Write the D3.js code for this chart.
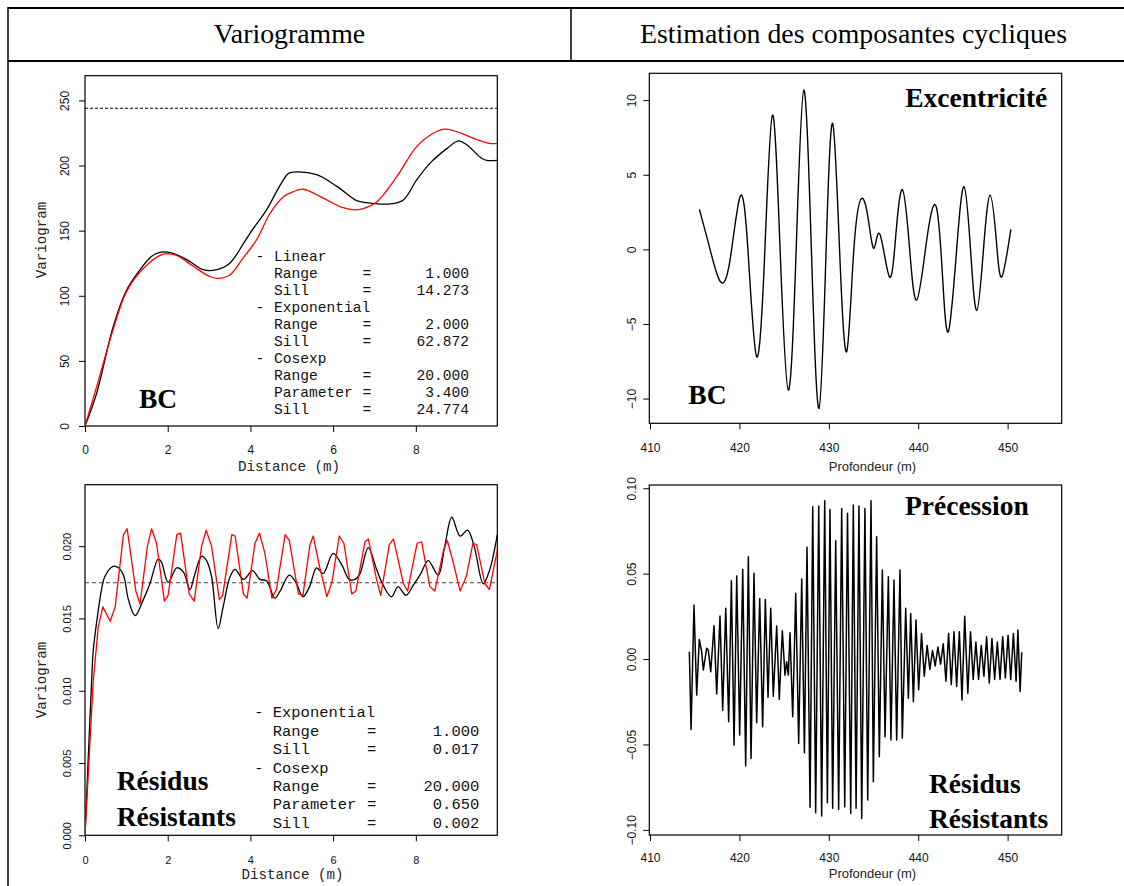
<!DOCTYPE html>
<html><head><meta charset="utf-8">
<script src="https://cdn.jsdelivr.net/npm/d3@7/dist/d3.min.js"></script>
<style>body{margin:0;background:#fff} svg{display:block}</style>
</head><body><svg id="c" width="1124" height="886"></svg>
<script>
// ---------------- DATA ----------------
const headerTitles = ["Variogramme", "Estimation des composantes cycliques"];

// Top-left: variogram BC (black = experimental, red = model)
const bcExpDist = [0,0.28,0.68,1.0,1.33,1.6,1.81,2.13,2.5,2.86,3.19,3.5,3.83,3.99,4.39,4.72,4.92,5.04,5.6,6.09,6.57,6.81,7.38,7.7,8.02,8.38,8.75,9.03,9.23,9.59,9.71,9.97];
const bcExpVal  = [0,25,76,104,120,130,133.4,132.6,127,120,120,125,140,148,166,185,194,195,193,184,173,171.5,170.5,173.6,189,203,213,219,216,205.6,204,204];
const bcModDist = [0,0.28,0.68,1.0,1.41,1.89,2.21,2.6,3.0,3.19,3.5,3.8,4.15,4.47,4.8,5.04,5.28,5.76,6.2,6.49,6.73,7.05,7.54,8.02,8.42,8.71,8.99,9.47,9.79,9.97];
const bcModVal  = [0,30,74,103,121,132,131,123,115,113.4,116,128,143,163,176,180,181.8,175,168,166,167,172,191.5,214.5,224.8,227.9,226,220,217,217];
const bcSill = 244;
const bcYTicks = [0,50,100,150,200,250];
const distTicks = [0,2,4,6,8];
const bcLegendNames  = ["Linear","Range","Sill","Exponential","Range","Sill","Cosexp","Range","Parameter","Sill"];
const bcLegendValues = [null,"1.000","14.273",null,"2.000","62.872",null,"20.000","3.400","24.774"];

// Bottom-left: variogram residus resistants
const rrExpDist = [0,0.16,0.2,0.28,0.4,0.48,0.68,0.81,0.93,1.05,1.21,1.41,1.57,1.77,1.85,2.01,2.22,2.38,2.54,2.64,2.82,2.94,3.06,3.22,3.34,3.51,3.63,3.83,4.05,4.23,4.39,4.59,4.72,4.94,5.1,5.27,5.43,5.6,5.76,6.0,6.21,6.39,6.53,6.65,6.85,7.05,7.21,7.41,7.57,7.76,7.94,8.12,8.3,8.54,8.7,8.87,9.07,9.25,9.41,9.63,9.79,9.97];
const rrExpVal  = [0,0.0107,0.0128,0.0147,0.017,0.0179,0.0186,0.0185,0.018,0.0163,0.0152,0.0163,0.0174,0.0191,0.0189,0.0175,0.0185,0.0182,0.017,0.0179,0.0193,0.019,0.0179,0.0143,0.0158,0.0179,0.0184,0.0177,0.0183,0.0177,0.0176,0.0164,0.0169,0.018,0.0175,0.0165,0.0172,0.0185,0.0181,0.0195,0.0187,0.0177,0.0177,0.0181,0.0199,0.0184,0.0173,0.0165,0.0172,0.0166,0.0173,0.0181,0.019,0.018,0.02,0.022,0.0207,0.0211,0.02,0.0174,0.0184,0.0208];
const rrModDist = [0,0.2,0.32,0.43,0.61,0.73,0.93,1.02,1.23,1.33,1.51,1.61,1.73,1.92,2.01,2.22,2.31,2.52,2.64,2.82,2.93,3.06,3.25,3.33,3.55,3.63,3.83,3.92,4.11,4.22,4.35,4.52,4.63,4.84,4.94,5.16,5.27,5.44,5.52,5.67,5.85,5.97,6.15,6.26,6.45,6.55,6.77,6.85,7.05,7.15,7.36,7.46,7.7,7.8,8.03,8.14,8.34,8.46,8.67,8.76,8.91,9.07,9.22,9.38,9.47,9.67,9.78,9.97];
const rrModVal  = [0,0.0107,0.0144,0.0158,0.0148,0.0158,0.0208,0.0212,0.0169,0.016,0.02,0.0212,0.0202,0.0162,0.0166,0.0208,0.0209,0.0167,0.0162,0.02,0.0211,0.02,0.0163,0.0166,0.0208,0.0207,0.0167,0.0164,0.0202,0.0209,0.0195,0.0164,0.017,0.0208,0.0204,0.0167,0.0166,0.0201,0.0207,0.0186,0.0165,0.0175,0.0207,0.0202,0.0167,0.0169,0.0203,0.0205,0.0177,0.0166,0.0201,0.0205,0.0174,0.0169,0.0202,0.0203,0.0172,0.0169,0.0197,0.0204,0.0188,0.0169,0.0179,0.0202,0.0201,0.0174,0.017,0.0197];
const rrSill = 0.01747;
const rrYTicks = [0,0.005,0.01,0.015,0.02];
const rrLegendNames  = ["Exponential","Range","Sill","Cosexp","Range","Parameter","Sill"];
const rrLegendValues = [null,"1.000","0.017",null,"20.000","0.650","0.002"];

// Top-right: excentricity component
const excDepth = [415.52,416.64,417.85,418.95,420.07,420.95,421.93,422.85,423.7,424.55,425.47,426.35,427.2,428.05,428.9,429.7,430.43,431.2,432.0,432.8,433.68,434.43,435.06,435.73,436.78,437.5,438.23,439.0,439.83,440.95,441.99,442.7,443.37,444.3,445.13,445.85,446.55,447.3,448.05,448.75,449.35,450.36];
const excVal   = [2.68,0.17,-2.15,-0.72,3.53,0,-7.2,0,9.0,0,-9.43,0,10.68,0,-10.66,0,8.44,0,-6.86,0,3.42,1.96,0.07,1.0,-1.84,1.0,4.0,0.3,-3.4,0.62,2.9,-1.6,-5.52,0,4.2,0,-4.1,0,3.63,0.5,-1.84,1.34];
const excYTicks = [-10,-5,0,5,10];
const depthTicks = [410,420,430,440,450];

// Bottom-right: precession component
const preDepth = [414.4,414.59,414.92,415.22,415.51,415.78,415.96,416.34,416.52,416.79,417.16,417.46,417.83,418.13,418.47,418.8,419.1,419.4,419.7,420.03,420.37,420.7,421.0,421.3,421.63,421.93,422.27,422.6,422.9,423.2,423.5,423.79,424.17,424.46,424.8,425.1,425.29,425.47,425.66,425.96,426.3,426.63,426.97,427.27,427.56,427.9,428.2,428.53,428.87,429.2,429.54,429.84,430.13,430.43,430.77,431.1,431.44,431.78,432.09,432.45,432.74,433.05,433.37,433.68,434.04,434.35,434.72,434.98,435.35,435.65,435.99,436.29,436.66,436.95,437.29,437.59,437.96,438.22,438.6,438.9,439.16,439.46,439.75,440.05,440.37,440.68,441.0,441.3,441.6,441.9,442.2,442.5,442.8,443.1,443.4,443.7,444.0,444.3,444.6,444.9,445.2,445.55,445.85,446.15,446.45,446.75,447.05,447.35,447.65,447.95,448.25,448.55,448.85,449.15,449.45,449.75,450.05,450.35,450.65,450.95,451.15,451.4,451.58];
const preVal   = [0.0043,-0.0412,0.0316,-0.0211,0.0115,0.0043,-0.0064,0.0063,0.0053,-0.0074,0.0195,-0.0205,0.0252,-0.0299,0.0297,-0.0367,0.0458,-0.0504,0.0486,-0.0445,0.0525,-0.0625,0.0599,-0.0582,0.0502,-0.0373,0.0355,-0.0396,0.0349,-0.0224,0.0297,-0.0217,0.0193,-0.0236,0.0166,-0.0094,-0.0016,-0.0094,0.0154,-0.0338,0.0385,-0.0494,0.0468,-0.0549,0.0654,-0.0868,0.0892,-0.09,0.0896,-0.0919,0.0927,-0.0841,0.0876,-0.0874,0.0693,-0.088,0.0882,-0.0865,0.0853,-0.0904,0.0902,-0.0874,0.0896,-0.0933,0.0882,-0.0825,0.0927,-0.0718,0.0716,-0.0572,0.0521,-0.0455,0.0482,-0.0474,0.0463,-0.0474,0.0521,-0.0464,0.0297,-0.023,0.0267,-0.025,0.0228,-0.018,0.015,-0.010,0.008,-0.006,0.005,-0.004,0.007,-0.003,0.009,-0.013,0.015,-0.015,0.016,-0.016,0.016,-0.024,0.025,-0.02,0.016,-0.012,0.01,-0.012,0.008,-0.010,0.013,-0.014,0.012,-0.012,0.010,-0.012,0.013,-0.011,0.014,-0.012,0.015,-0.013,0.017,-0.019,0.004];
const preYTicks = [-0.10,-0.05,0.00,0.05,0.10];

// ---------------- DRAWING ----------------
const svg = d3.select("#c");
svg.append("rect").attr("width",1124).attr("height",886).attr("fill","#fff");

// table frame
const frame = svg.append("g").attr("stroke","#000");
frame.append("line").attr("x1",8).attr("x2",1124).attr("y1",8).attr("y2",8).attr("stroke-width",2);
frame.append("line").attr("x1",8).attr("x2",1124).attr("y1",61).attr("y2",61).attr("stroke-width",2);
frame.append("line").attr("x1",8).attr("x2",8).attr("y1",7).attr("y2",886).attr("stroke-width",1.5);
frame.append("line").attr("x1",571).attr("x2",571).attr("y1",8).attr("y2",61).attr("stroke-width",1.5);
const headerX = [289.5, 853.5];
svg.selectAll("text.hdr").data(headerTitles).join("text").attr("class","hdr")
  .attr("x",(d,i)=>headerX[i]).attr("y",43).attr("text-anchor","middle")
  .attr("font-family","'Liberation Serif','Times New Roman',serif").attr("font-size",27.8).attr("fill","#000").text(d=>d);

function panel(o){
  const g = svg.append("g");
  const x = d3.scaleLinear().domain(o.xDom).range([o.L,o.R]);
  const y = d3.scaleLinear().domain(o.yDom).range([o.B,o.T]);
  const ax = g.append("g").attr("transform",`translate(0,${o.B})`)
    .call(d3.axisBottom(x).tickValues(o.xTicks).tickSize(6).tickFormat(d3.format("d")));
  ax.select(".domain").remove();
  ax.selectAll(".tick line").attr("stroke","#000").attr("stroke-width",1);
  ax.selectAll(".tick text").attr("y",o.xLabOff).attr("dy",0).attr("dominant-baseline","central")
    .attr("font-family",o.tickFont).attr("font-size",o.tickSize).attr("fill","#111");
  const ay = g.append("g").attr("transform",`translate(${o.L},0)`)
    .call(d3.axisLeft(y).tickValues(o.yTicks).tickSize(6).tickFormat(o.yFmt));
  ay.select(".domain").remove();
  ay.selectAll(".tick line").attr("stroke","#000").attr("stroke-width",1);
  ay.selectAll(".tick text").attr("transform","rotate(-90)").attr("x",0).attr("y",-o.yLabOff).attr("dy",0)
    .attr("text-anchor","middle").attr("dominant-baseline","central")
    .attr("font-family",o.tickFont).attr("font-size",o.tickSize).attr("fill","#111");
  g.append("rect").attr("x",o.L).attr("y",o.T).attr("width",o.R-o.L).attr("height",o.B-o.T)
    .attr("fill","none").attr("stroke","#000").attr("stroke-width",1.2);
  g.append("text").attr("x",o.xt[0]).attr("y",o.xt[1]).attr("text-anchor","middle").attr("dominant-baseline","central")
    .attr("font-family",o.titleFont).attr("font-size",o.titleSize).attr("fill","#222").text(o.xTitle);
  if(o.yTitle){
    g.append("text").attr("transform",`translate(${o.yt[0]},${o.yt[1]}) rotate(-90)`).attr("text-anchor","middle")
      .attr("dominant-baseline","central").attr("font-family",o.titleFont).attr("font-size",o.titleSize)
      .attr("fill","#222").text(o.yTitle);
  }
  const clip = "clip"+Math.round(o.L)+"_"+Math.round(o.T);
  svg.append("clipPath").attr("id",clip).append("rect").attr("x",o.L).attr("y",o.T).attr("width",o.R-o.L).attr("height",o.B-o.T);
  const plot = g.append("g").attr("clip-path",`url(#${clip})`);
  return {g, x, y, plot};
}

function drawLine(p, xs, ys, color, curve, w){
  const pts = xs.map((d,i)=>[d, ys[i]]);
  p.plot.append("path").datum(pts).attr("fill","none").attr("stroke",color).attr("stroke-width",w||1.3)
    .attr("stroke-linejoin","round")
    .attr("d", d3.line().x(d=>p.x(d[0])).y(d=>p.y(d[1])).curve(curve));
}
function hline(p, v, color, dash){
  p.plot.append("line").attr("x1",p.x.range()[0]).attr("x2",p.x.range()[1]).attr("y1",p.y(v)).attr("y2",p.y(v))
    .attr("stroke",color).attr("stroke-width",1.1).attr("stroke-dasharray",dash);
}
function legend(names, vals, o){
  const g = svg.append("g").attr("font-family","'Liberation Mono','Courier New',monospace").attr("font-size",o.size).attr("fill","#111");
  names.forEach((n,i)=>{
    const yy = o.y0 + i*o.dy;
    if(vals[i]===null){
      g.append("text").attr("x",o.dash).attr("y",yy).attr("text-anchor","middle").attr("dominant-baseline","central").text("-");
      g.append("text").attr("x",o.name).attr("y",yy).attr("dominant-baseline","central").text(n);
    } else {
      g.append("text").attr("x",o.name).attr("y",yy).attr("dominant-baseline","central").text(n);
      g.append("text").attr("x",o.eq).attr("y",yy).attr("text-anchor","middle").attr("dominant-baseline","central").text("=");
      g.append("text").attr("x",o.val).attr("y",yy).attr("text-anchor","end").attr("dominant-baseline","central").text(vals[i]);
    }
  });
}
function bigLabel(t, x, y, anchor){
  svg.append("text").attr("x",x).attr("y",y).attr("text-anchor",anchor||"start")
    .attr("font-family","'Liberation Serif','Times New Roman',serif").attr("font-weight","bold")
    .attr("font-size",27.5).attr("fill","#000").text(t);
}

const sans = "'Liberation Sans',Arial,Helvetica,sans-serif";
const mono = "'Liberation Mono','Courier New',monospace";

// Top-left
const p1 = panel({L:85,R:497.3,T:75.7,B:426,xDom:[0,9.97],yDom:[0,269],xTicks:distTicks,yTicks:bcYTicks,
  yFmt:d3.format("d"),tickFont:sans,tickSize:12,xLabOff:24,yLabOff:20,
  titleFont:mono,titleSize:14.2,xTitle:"Distance (m)",xt:[289,467],yTitle:"Variogram",yt:[41.5,240]});
hline(p1, bcSill, "#000", "3,2");
drawLine(p1, bcExpDist, bcExpVal, "#000", d3.curveCatmullRom);
drawLine(p1, bcModDist, bcModVal, "#ff0000", d3.curveCatmullRom);
legend(bcLegendNames, bcLegendValues, {size:14.6,y0:256.7,dy:17.04,dash:260,name:274,eq:367,val:469});
bigLabel("BC", 139, 408.3);

// Bottom-left
const p2 = panel({L:85,R:497.3,T:484.7,B:835.3,xDom:[0,9.97],yDom:[0,0.02425],xTicks:distTicks,yTicks:rrYTicks,
  yFmt:d3.format(".3f"),tickFont:sans,tickSize:11,xLabOff:24.7,yLabOff:18.3,
  titleFont:mono,titleSize:14.2,xTitle:"Distance (m)",xt:[292.5,875],yTitle:"Variogram",yt:[41.5,680]});
hline(p2, rrSill, "#444", "4,3");
drawLine(p2, rrExpDist, rrExpVal, "#000", d3.curveCatmullRom);
drawLine(p2, rrModDist, rrModVal, "#ff0000", d3.curveLinear);
legend(rrLegendNames, rrLegendValues, {size:15.5,y0:713.3,dy:18.4,dash:259,name:272.7,eq:371.7,val:479.3});
bigLabel("Résidus", 116.7, 790);
bigLabel("Résistants", 116.7, 825.7);

// Top-right
const p3 = panel({L:649.3,R:1061.7,T:73.3,B:423.3,xDom:[409.92,456.05],yDom:[-11.66,11.8],xTicks:depthTicks,yTicks:excYTicks,
  yFmt:d3.format("d"),tickFont:sans,tickSize:12,xLabOff:25,yLabOff:17.6,
  titleFont:sans,titleSize:13,xTitle:"Profondeur (m)",xt:[872.5,466.5],yTitle:null});
drawLine(p3, excDepth, excVal, "#000", d3.curveNatural, 1.4);
bigLabel("Excentricité", 1047.3, 107, "end");
bigLabel("BC", 688.3, 404.3);

// Bottom-right
const p4 = panel({L:649.3,R:1061.7,T:485,B:835,xDom:[409.92,456.05],yDom:[-0.103,0.1019],xTicks:depthTicks,yTicks:preYTicks,
  yFmt:d3.format(".2f"),tickFont:sans,tickSize:12,xLabOff:23.3,yLabOff:17.6,
  titleFont:sans,titleSize:13,xTitle:"Profondeur (m)",xt:[872.5,873.3],yTitle:null});
drawLine(p4, preDepth, preVal, "#000", d3.curveLinear, 1.5);
bigLabel("Précession", 905, 515);
bigLabel("Résidus", 929, 792.7);
bigLabel("Résistants", 929, 828.3);
</script></body></html>
